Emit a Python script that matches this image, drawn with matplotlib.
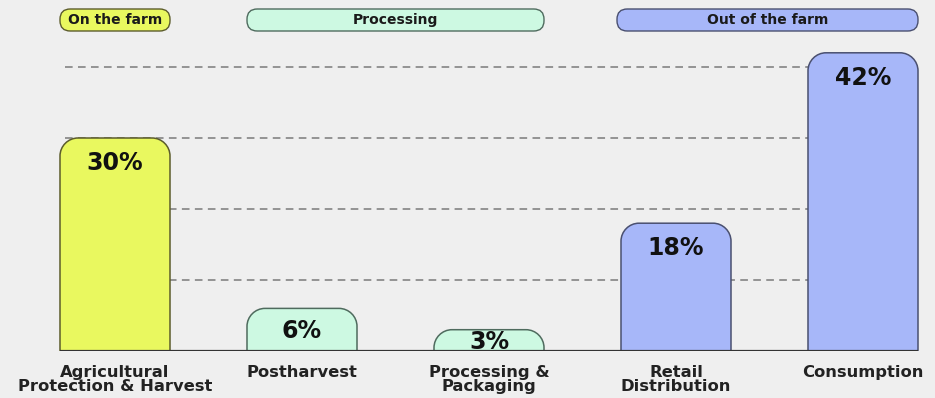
import matplotlib.pyplot as plt
from matplotlib.path import Path
from matplotlib.patches import PathPatch, FancyBboxPatch

plt.rcParams['font.family'] = ['DejaVu Sans']

# food loss share per stage of the chain
stages = ['Agricultural\nProtection & Harvest', 'Postharvest', 'Processing &\nPackaging',
          'Retail\nDistribution', 'Consumption']
shares = [30, 6, 3, 18, 42]
groups = ['farm', 'proc', 'proc', 'out', 'out']

group_names = ['On the farm', 'Processing', 'Out of the farm']
group_span = [(0, 0), (1, 2), (3, 4)]
fill = {'farm': '#e9f85f', 'proc': '#cdf9e2', 'out': '#a7b7f9'}
edge = {'farm': '#5c5c2c', 'proc': '#4f6b5e', 'out': '#4a5070'}
gkeys = ['farm', 'proc', 'out']

W, H = 935, 398
fig = plt.figure(figsize=(W / 100, H / 100), dpi=100)
fig.patch.set_facecolor('#efefef')

# axes in pixel terms: baseline at 47px from bottom, 7.1 px per percent
bot_px, top_px = 47, 358
px_per_pct = 7.1
ax = fig.add_axes([0, bot_px / H, 1, (top_px - bot_px) / H])
ax.set_facecolor('#efefef')
xlo, xhi = -115 / 187, (W - 115) / 187
ax.set_xlim(xlo, xhi)
ax.set_ylim(0, (top_px - bot_px) / px_per_pct)
ax.axis('off')

px_x = (xhi - xlo) / W  # data units per pixel in x
px_y = 1 / px_per_pct

# dashed reference lines
for g in [10, 20, 30, 40]:
    ax.plot([xlo + 65 * px_x, xlo + 918 * px_x], [g, g], ls=(0, (5, 3.5)),
            color='#7a7a7a', lw=1.1, zorder=1)


def top_rounded(x0, x1, h, r):
    rx, ry = r * px_x, r * px_y
    ry = min(ry, h)
    k = 0.55
    verts = [(x0, 0), (x0, h - ry),
             (x0, h - ry + k * ry), (x0 + rx - k * rx, h), (x0 + rx, h),
             (x1 - rx, h),
             (x1 - rx + k * rx, h), (x1, h - ry + k * ry), (x1, h - ry),
             (x1, 0)]
    codes = [Path.MOVETO, Path.LINETO,
             Path.CURVE4, Path.CURVE4, Path.CURVE4,
             Path.LINETO,
             Path.CURVE4, Path.CURVE4, Path.CURVE4,
             Path.LINETO]
    return Path(verts, codes)


bw = 110 * px_x
for i, (v, g) in enumerate(zip(shares, groups)):
    p = top_rounded(i - bw / 2, i + bw / 2, v, 18)
    ax.add_patch(PathPatch(p, facecolor=fill[g], edgecolor=edge[g], lw=1.1, zorder=3))
    ty = v - 3.5 if v > 10 else v / 2 - 0.2
    ax.text(i, ty, f'{v}%', ha='center', va='center', fontsize=17,
            fontweight='bold', color='#111111', zorder=4)
    ax.text(i, -14 * px_y, stages[i], ha='center', va='top', fontsize=11.8,
            fontweight='bold', color='#222222', linespacing=0.93, zorder=4,
            clip_on=False)

# baseline
ax.plot([-bw / 2, 4 + bw / 2], [0, 0], color='#333333', lw=1.6, zorder=5,
        solid_capstyle='butt')

# stage headers
hy0 = 1 - 31 / H
hh = 22 / H
for name, (a, b), key in zip(group_names, group_span, gkeys):
    x0 = (115 + 187 * a - 55) / W
    x1 = (115 + 187 * b + 55) / W
    if key == 'out':
        x0 -= 4 / W
    box = FancyBboxPatch((x0, hy0), x1 - x0, hh, boxstyle='round,pad=0,rounding_size=0.011',
                         transform=fig.transFigure, facecolor=fill[key],
                         edgecolor=edge[key], lw=1.0, mutation_aspect=W / H)
    fig.patches.append(box)
    fig.text((x0 + x1) / 2, hy0 + hh / 2, name, ha='center', va='center',
             fontsize=10, fontweight='bold', color='#1a1a1a')

fig.savefig('out.png', dpi=100, facecolor=fig.get_facecolor())
